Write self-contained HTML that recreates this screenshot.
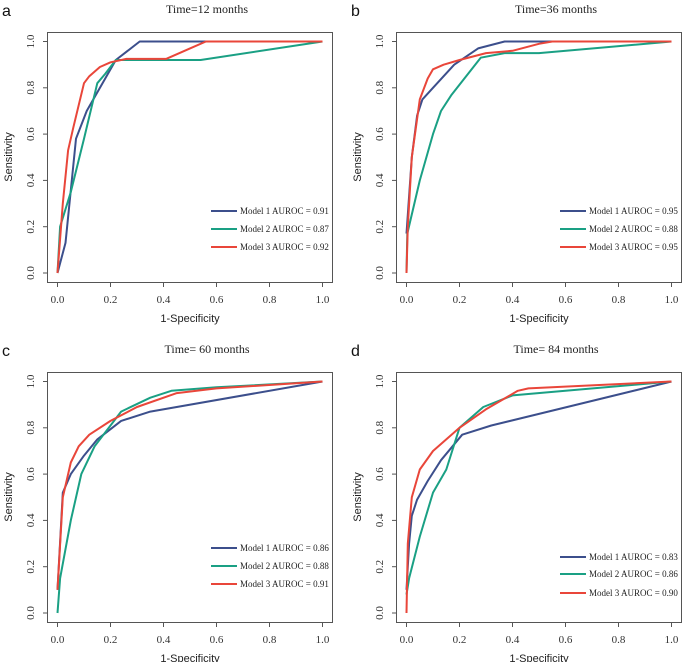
<!DOCTYPE html>
<html><head><meta charset="utf-8"><style>
body{margin:0;background:#fff;}
svg{display:block;}
</style></head><body>
<svg id="chart" width="685" height="662" xmlns="http://www.w3.org/2000/svg"></svg>
<script>
const panelLetters = ['a','b','c','d'];
const panelTitles = ['Time=12 months','Time=36 months','Time= 60 months','Time= 84 months'];
const seriesNames = ['Model 1','Model 2','Model 3'];
const seriesColors = ['#3c4f8c','#1aa084','#e9463a'];
const aurocA = ['0.91','0.87','0.92'];
const aurocB = ['0.95','0.88','0.95'];
const aurocC = ['0.86','0.88','0.91'];
const aurocD = ['0.83',' 0.86','0.90'];
const ticks = [0,0.2,0.4,0.6,0.8,1.0];
const tickLabels = ['0.0','0.2','0.4','0.6','0.8','1.0'];
// panel a
const aM1x=[0,0.03,0.07,0.11,0.15,0.22,0.31,1], aM1y=[0,0.13,0.58,0.7,0.78,0.92,1,1];
const aM2x=[0,0.01,0.05,0.1,0.15,0.18,0.22,0.54,1], aM2y=[0,0.2,0.35,0.58,0.82,0.86,0.92,0.92,1];
const aM3x=[0,0.02,0.04,0.06,0.1,0.12,0.16,0.2,0.26,0.41,0.5,0.56,1], aM3y=[0,0.3,0.53,0.63,0.82,0.85,0.89,0.91,0.925,0.925,0.97,1,1];
// panel b
const bM1x=[0,0.02,0.04,0.06,0.1,0.18,0.27,0.37,1], bM1y=[0.17,0.5,0.68,0.75,0.8,0.9,0.97,1,1];
const bM2x=[0,0.003,0.05,0.1,0.13,0.17,0.28,0.37,0.5,1], bM2y=[0,0.17,0.4,0.6,0.7,0.77,0.93,0.95,0.95,1];
const bM3x=[0,0.005,0.02,0.05,0.08,0.1,0.14,0.2,0.3,0.4,0.5,0.55,1], bM3y=[0,0.2,0.5,0.75,0.84,0.88,0.9,0.92,0.95,0.96,0.99,1,1];
// panel c
const cM1x=[0,0.02,0.05,0.1,0.15,0.24,0.35,1], cM1y=[0.1,0.52,0.6,0.68,0.75,0.83,0.87,1];
const cM2x=[0,0.01,0.05,0.09,0.14,0.24,0.35,0.43,0.6,1], cM2y=[0,0.15,0.4,0.6,0.72,0.87,0.93,0.96,0.975,1];
const cM3x=[0,0.02,0.05,0.08,0.12,0.2,0.3,0.45,0.6,1], cM3y=[0.1,0.5,0.65,0.72,0.77,0.83,0.89,0.95,0.97,1];
// panel d
const dM1x=[0,0.01,0.02,0.04,0.08,0.13,0.21,0.32,1], dM1y=[0.1,0.3,0.42,0.49,0.57,0.66,0.77,0.81,1];
const dM2x=[0,0.01,0.05,0.1,0.15,0.2,0.29,0.4,0.6,1], dM2y=[0.08,0.15,0.33,0.52,0.62,0.8,0.89,0.94,0.96,1];
const dM3x=[0,0.005,0.02,0.05,0.1,0.2,0.3,0.42,0.46,1], dM3y=[0,0.3,0.5,0.62,0.7,0.8,0.88,0.96,0.97,1];

const panels = [
 {ox:0,oy:0,auc:aurocA,xs:[aM1x,aM2x,aM3x],ys:[aM1y,aM2y,aM3y],leg:[211,229,247]},
 {ox:349,oy:0,auc:aurocB,xs:[bM1x,bM2x,bM3x],ys:[bM1y,bM2y,bM3y],leg:[211,229,247]},
 {ox:0,oy:340,auc:aurocC,xs:[cM1x,cM2x,cM3x],ys:[cM1y,cM2y,cM3y],leg:[208,226,244]},
 {ox:349,oy:340,auc:aurocD,xs:[dM1x,dM2x,dM3x],ys:[dM1y,dM2y,dM3y],leg:[217,234,253]}
];
const svg=document.getElementById('chart');
const NS='http://www.w3.org/2000/svg';
function mk(tag,attrs,parent){const e=document.createElementNS(NS,tag);for(const k in attrs)e.setAttribute(k,attrs[k]);parent.appendChild(e);return e;}
panels.forEach((p,i)=>{
 const g=mk('g',{transform:`translate(${p.ox},${p.oy})`},svg);
 
 
 const x0=57.5,x1=322.5,y0=273,y1=41.5;
 const sx=v=>x0+v*(x1-x0), sy=v=>y0+v*(y1-y0);
 const letter=mk('text',{x:2,y:16,'font-family':'Liberation Sans, sans-serif','font-size':16,fill:'#111'},g);
 letter.textContent=panelLetters[i];
 
 
 const t=mk('text',{x:207,y:13,'text-anchor':'middle','font-family':'Liberation Serif, serif','font-size':12,fill:'#222'},g);
 t.textContent=panelTitles[i];
 
 
 const box=mk('rect',{x:47.5,y:32.5,width:285,height:250,fill:'none',stroke:'#555','stroke-width':1},g);
 
 
 ticks.forEach((v,k)=>{
  mk('line',{x1:sx(v),x2:sx(v),y1:282.5,y2:287,stroke:'#555'},g);
  const tx=mk('text',{x:sx(v),y:303,'text-anchor':'middle','font-family':'Liberation Serif, serif','font-size':11,fill:'#333'},g);
  tx.textContent=tickLabels[k];
  
  
  mk('line',{x1:43,x2:47.5,y1:sy(v),y2:sy(v),stroke:'#555'},g);
  const ty=mk('text',{x:0,y:0,transform:`translate(34,${sy(v)}) rotate(-90)`,'text-anchor':'middle','font-family':'Liberation Serif, serif','font-size':11,fill:'#333'},g);
  ty.textContent=tickLabels[k];
  
  
 });
 const xl=mk('text',{x:190,y:322,'text-anchor':'middle','font-family':'Liberation Sans, sans-serif','font-size':11,fill:'#222'},g);
 xl.textContent='1-Specificity';
 
 
 const yl=mk('text',{x:0,y:0,transform:'translate(12,157) rotate(-90)','text-anchor':'middle','font-family':'Liberation Sans, sans-serif','font-size':11,fill:'#222'},g);
 yl.textContent='Sensitivity';
 
 
 for(let s=0;s<3;s++){
  const pts=p.xs[s].map((xv,k)=>sx(xv).toFixed(1)+','+sy(p.ys[s][k]).toFixed(1)).join(' ');
  const pl=mk('polyline',{points:pts,fill:'none',stroke:seriesColors[s],'stroke-width':2,'stroke-linejoin':'round'},g);
  
  
  const ly=p.leg[s];
  const ll=mk('line',{x1:211,x2:237,y1:ly,y2:ly,stroke:seriesColors[s],'stroke-width':2},g);
  
  
  const lt=mk('text',{x:240,y:ly+3,'font-family':'Liberation Serif, serif','font-size':9,fill:'#222'},g);
  lt.textContent=seriesNames[s]+' AUROC = '+p.auc[s];
  
  
 }
});
</script>
</body></html>
